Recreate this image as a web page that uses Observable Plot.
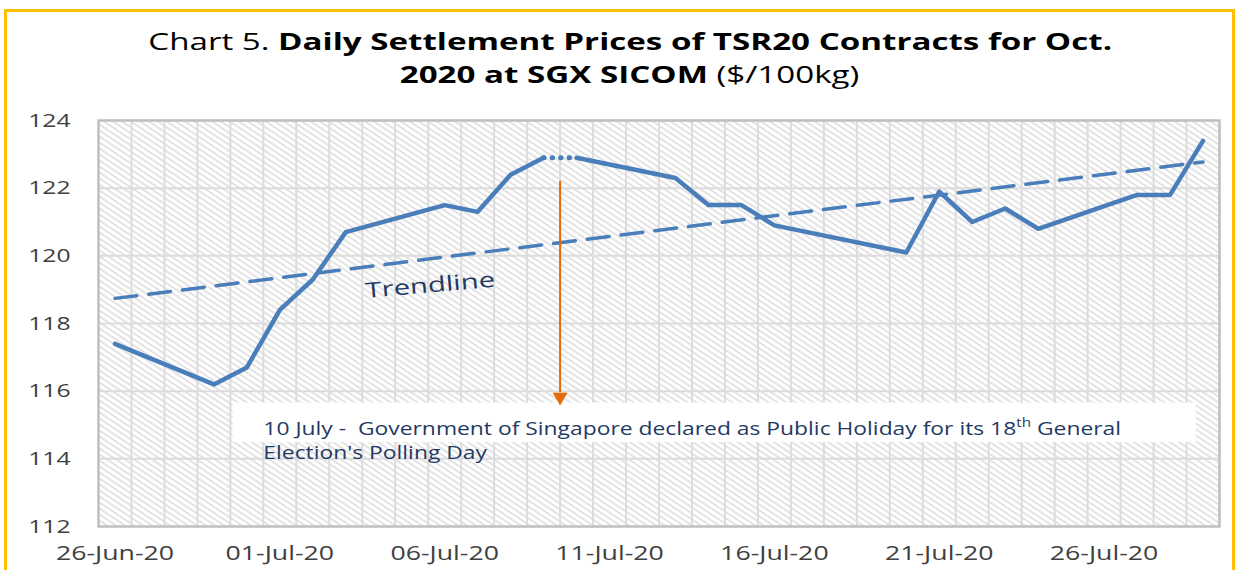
<!DOCTYPE html>
<html><head><meta charset="utf-8">
<script src="https://cdn.jsdelivr.net/npm/d3@7"></script>
<script src="https://cdn.jsdelivr.net/npm/@observablehq/plot@0.6"></script>
<style>
body{margin:0;background:#fff;}
#wrap{position:relative;width:1235px;height:570px;overflow:hidden;background:#fff;}
#border{position:absolute;left:4px;top:9px;width:1231px;height:620px;border:3px solid #FFC000;box-sizing:border-box;}
#title{position:absolute;left:0;top:24px;width:1260px;font-family:"Open Sans",sans-serif;font-size:24px;line-height:33px;color:#000;}
#title div{text-align:center;}
#title span.l{display:inline-block;transform:scaleX(1.38);transform-origin:50% 50%;white-space:pre;}
#chart{position:absolute;left:0;top:100px;}
[aria-label^="x-axis"] text{font-size:19.5px;fill:#404040;}
[aria-label^="y-axis"] text{font-size:19px;fill:#404040;}
</style></head>
<body><div id="wrap"><div id="border"></div>
<div id="title"><div><span class="l">Chart 5. <b>Daily Settlement Prices of TSR20 Contracts for Oct.</b></span></div><div><span class="l"><b>2020 at SGX SICOM</b> ($/100kg)</span></div></div>
<div id="chart"></div></div>
<script>
// ---- data ----
const dates = ["2020-06-26","2020-06-29","2020-06-30","2020-07-01","2020-07-02","2020-07-03",
  "2020-07-06","2020-07-07","2020-07-08","2020-07-09","2020-07-10","2020-07-13","2020-07-14",
  "2020-07-15","2020-07-16","2020-07-20","2020-07-21","2020-07-22","2020-07-23","2020-07-24",
  "2020-07-27","2020-07-28","2020-07-29"];
const prices = [117.4,116.2,116.7,118.4,119.3,120.7,
  121.5,121.3,122.4,122.9,122.9,122.3,121.5,
  121.5,120.9,120.1,121.9,121.0,121.4,120.8,
  121.8,121.8,123.4];
const holidayDate = "2020-07-10";
const yTicks = [112,114,116,118,120,122,124];
const xTickDates = ["2020-06-26","2020-07-01","2020-07-06","2020-07-11","2020-07-16","2020-07-21","2020-07-26"];
const xDomain = ["2020-06-26","2020-07-30"];
const trendLabel = "Trendline";
const trendLabelAt = {date:"2020-07-06T01:30", value:119.12};
const noteLines = ["10 July -  Government of Singapore declared as Public Holiday for its 18th General","Election's Polling Day"];
const noteAt = {date:"2020-07-01T00:00", value:114.57};
const noteBox = {start:"2020-06-30T02:00", end:"2020-07-29T07:00", top:115.65, bottom:114.48};
const arrowPts = {date:"2020-07-10T00:00", from:122.2, to:115.96, head:115.83};

// ---- build ----
const noon = d => new Date(d + "T12:00:00Z");
const utc = d => new Date(d.length > 10 ? d + ":00Z" : d + "T00:00:00Z");
const rows = dates.map((d,i) => ({date: noon(d), price: prices[i]}));
const hol = noon(holidayDate);
const prevIdx = dates.indexOf(holidayDate) - 1;
const before = rows.filter(r => r.date < hol);
const gap = rows.slice(prevIdx, prevIdx + 2);
const after = rows.filter(r => r.date >= hol);
const blue = "#4a7ebb", orange = "#E46C0A", navy = "#1F3A63";
const start = utc(xDomain[0]), end = utc(xDomain[1]);
const dayBounds = d3.utcDay.range(d3.utcDay.offset(start,1), end);

const plot = Plot.plot({
  width:1235, height:470, marginLeft:98, marginRight:16, marginTop:20, marginBottom:44,
  style:{fontFamily:"'Open Sans', sans-serif", background:"transparent", overflow:"visible"},
  x:{type:"utc", domain:[start,end], ticks:xTickDates.map(noon), tickFormat:d3.utcFormat("%d-%b-%y"), tickSize:0, tickPadding:20, label:null},
  y:{domain:[yTicks[0], yTicks[yTicks.length-1]], ticks:yTicks, tickSize:0, tickPadding:28, label:null},
  marks:[
    Plot.frame({fill:"url(#hatch)", stroke:"none"}),
    Plot.ruleX(dayBounds, {stroke:"#dcdcdc", strokeWidth:2}),
    Plot.ruleY(yTicks.slice(1,-1), {stroke:"#dcdcdc", strokeWidth:2}),
    Plot.rect([noteBox], {x1:d=>utc(d.start), x2:d=>utc(d.end), y1:"top", y2:"bottom", fill:"white"}),
    Plot.linearRegressionY(rows, {x:"date", y:"price", ci:0, stroke:blue, strokeWidth:3.5, strokeDasharray:"22,12"}),
    Plot.line(before, {x:"date", y:"price", stroke:blue, strokeWidth:4.5, strokeLinejoin:"round"}),
    Plot.line(gap, {x:"date", y:"price", stroke:blue, strokeWidth:5, strokeDasharray:"0.5,8", strokeLinecap:"round"}),
    Plot.line(after, {x:"date", y:"price", stroke:blue, strokeWidth:4.5, strokeLinejoin:"round"}),
    Plot.ruleX([arrowPts], {x:d=>utc(d.date), y1:"from", y2:"to", stroke:orange, strokeWidth:2}),
    Plot.dot([arrowPts], {x:d=>utc(d.date), y:"head", symbol:"triangle", r:5.5, fill:orange, stroke:"none", rotate:180}),
    Plot.text([trendLabel], {x:()=>utc(trendLabelAt.date), y:()=>trendLabelAt.value, text:d=>d, rotate:-5, fontSize:21, fill:navy}),
    Plot.text([noteLines.join("\n")], {x:()=>utc(noteAt.date), y:()=>noteAt.value, text:d=>d, textAnchor:"start", lineAnchor:"middle", lineHeight:1.35, fontSize:18, fill:navy}),
    Plot.frame({stroke:"#bfbfbf", strokeWidth:2.5})
  ]
});

const svg = d3.select(plot);
const defs = svg.insert("defs", ":first-child");
const pat = defs.append("pattern").attr("id","hatch").attr("patternUnits","userSpaceOnUse")
  .attr("width",6).attr("height",6).attr("patternTransform","scale(1.5,1)");
pat.append("rect").attr("width",6).attr("height",6).attr("fill","#ffffff");
pat.append("path").attr("d","M-1,-1L7,7M-1,5L1,7M5,-1L7,1").attr("stroke","#d4d4d4").attr("stroke-width",1.2);

// horizontal stretch of text (reference is horizontally stretched)
function stretchEl(el, s) {
  const xa = el.getAttribute("x");
  const x = xa && /^-?[\d.]+$/.test(xa) ? +xa : 0;
  const t = el.getAttribute("transform")||"";
  el.setAttribute("transform", `${t} translate(${x},0) scale(${s},1) translate(${-x},0)`);
}
svg.selectAll('[aria-label^="x-axis"] text').each(function(){ stretchEl(this, 1.37); });
svg.selectAll('[aria-label^="y-axis"] text').each(function(){ stretchEl(this, 1.3); });

// find annotation texts by content
let noteEl = null, trendEl = null;
svg.selectAll("text").each(function(){
  const c = this.textContent;
  if (c.startsWith(noteLines[0].slice(0,7))) noteEl = this;
  else if (c === trendLabel) trendEl = this;
});
if (trendEl) stretchEl(trendEl, 1.4);
if (noteEl) {
  noteEl.style.whiteSpace = "pre";
  const t1 = d3.select(noteEl).select("tspan");
  if (!t1.empty()) {
    const s = t1.text(); const k = s.indexOf("18th");
    if (k >= 0) {
      t1.text(s.slice(0, k + 2));
      t1.append("tspan").attr("baseline-shift","super").attr("font-size","12px").text("th");
      t1.append("tspan").text(s.slice(k + 4));
    }
  }
  stretchEl(noteEl, 1.27);
}

document.getElementById("chart").appendChild(plot);
</script>
</body></html>
